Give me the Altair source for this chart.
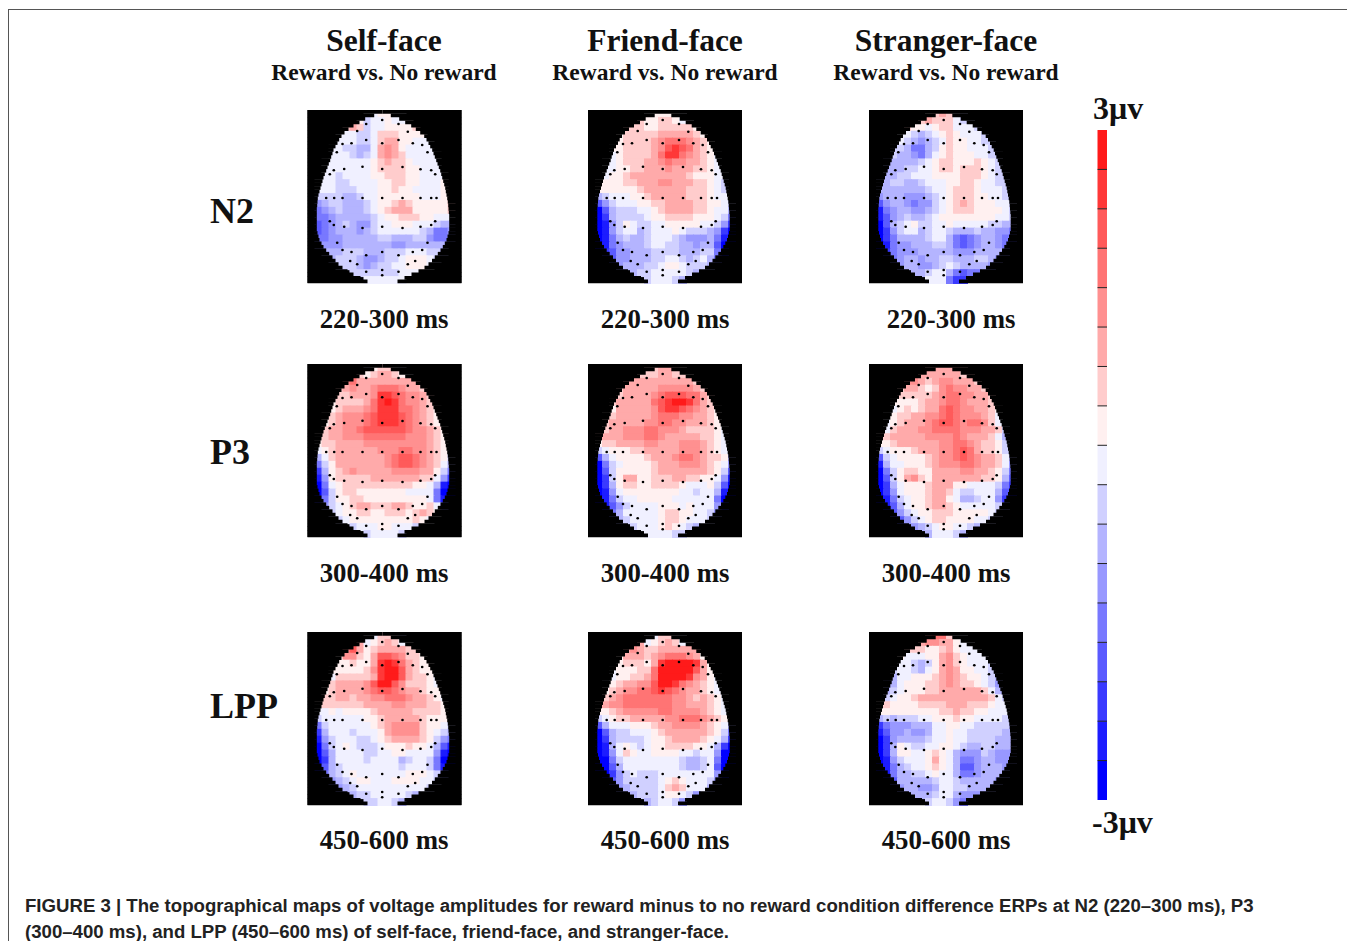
import altair as alt
import pandas as pd

# level codes, deepest red to deepest blue (one per colour-bar segment, 3 uV to -3 uV)
LEVEL_CODES = list("87654321abcdefghi")
LEVEL_COLORS = ["#ff1a1a", "#ff3838", "#ff5a5a", "#ff7474", "#ff9090", "#ffaaaa", "#ffcccc", "#fff0f0",
                "#f0f0ff", "#d0d0ff", "#b4b4ff", "#9898ff", "#7878ff", "#5a5aff", "#3a3aff", "#1c1cff", "#0000ff"]

# each map: rows of the scalp, top to bottom, one level code per cell inside the head
SELF_N2 = ["aa11aa", "1baa1aa1", "232baa11112", "aaabba2221111", "aaabba23311aaa", "aabbcca3431aaaa",
           "aaabcba3432aaaaa", "aaaaaaa123221aaaa", "aaaaaaa1222211aaa", "aabaaaa1122211aaaa",
           "aaabbaaaa112211aaa1", "aaabbbaaa11211aaaa1", "bbbbccbaa111111aaa1", "dcbbcccba11232111112",
           "edcbcccba12333111112", "eedcccccba1122211aaa", "fedcbcddbaa111aaabcc", "fedcccdcbaaaaaabceed",
           "eeddcccccbbcccbbdeed", "ddddcccccccddcccccc", "cccbbbcccbbbaaabbc", "cbbbcddcbba111ab",
           "bbbcdcbbaa111a", "bbbbbbbaaa", "aaaaaa"]
FRIEND_N2 = ["a1111a", "211221aa", "22211222221", "1222223333321", "12222345554321", "112222346765321",
             "a12222357754321a", "aa12223345443321a", "aa11223334333221a", "a112333333332111aa",
             "a1112233344333221ab", "11111123333332221ab", "cbaaa112333332221aa", "fdbaaa112233332211ab",
             "ifcbbbaa123333221aac", "igcbbbba112222111abe", "ihdb1abbaa11111aabdg", "ihdbaacbaaa1abbbcdgi",
             "ihecbccbaaabcdddcehi", "ihedcccbaabbccdccfi", "gfddcccbbbbcccbbeh", "fddcccbbaabcbace",
             "dcccbba11abbbc", "cbbaaaaabc", "baaabc"]
STRANGER_N2 = ["1232ab", "23222abb", "211a122aaab", "aabcba121aaab", "abcdcba211aabb", "bbceecb1211aaab",
               "bccdeca12111aabb", "cccccba12211121ab", "cccbbaa12212221ab", "ccbbaaa11112221abb",
               "ccbbccbaaa11221aabb", "cccccccbaa12221aaab", "dcccdddcba122211aab", "fdccdeddba1232111aab",
               "hedccddcba12221111ab", "hfdcbccba11111111aab", "ifcba1bbaa1aaaaabbcc", "igdbaacbaabcccbccdde",
               "igeccccbaacefedccdef", "iheddcccbbcefedccde", "gedddcccccdddccccd", "edccdccbbcccbbcd",
               "dccddcbabccccd", "ccbaacefee", "aaaegg"]
SELF_P3 = ["b1221b", "2123321a", "45333333333", "2343345554332", "22333477654432", "122223578754432",
           "1233345777554321", "12344456777654321", "12344456777654321", "233445666666544321",
           "1233444555555444321", "1223333444444444321", "a123333334445544321", "ca23333333456654321b",
           "eb1333333345665432ac", "gc1234333334444331be", "hd122222333333322adg", "iea1222222222211achi",
           "ifb1221111111aaaaeii", "geb1122111111111aeh", "dba1233222332112ad", "ba11221122212321",
           "ba11111111121a", "baaa11aaab", "baaaab"]
FRIEND_P3 = ["223321", "22233221", "33333333332", "2333334444432", "23333456665532", "233333567887532",
             "1333334677654321", "12333334555443321", "23333344554433321", "23344455444322221a",
             "233344455433333221a", "122333344333444321a", "ba1112233333444321a",
             "fca1111233345543221c", "ieba11112333444321ad", "ifb1111123333333 21bf".replace(" ", ""), "igb13311222332211adh",
             "igc1221122221aaa1bfi", "ihda11111111aabaachi", "ihebaa11111aaaaaaei", "hfdbaaaa111a1aaadg",
             "ecaaaaa12211aabd", "cbaaaa1221aaab", "baaa121abc", "aaaabb"]
STRANGER_P3 = ["233332", "33333322", "44323443332", "2332124544332", "22222345544332", "111123345543332",
               "a121233565443321", "a122334456544432a", "a123334566545542a", "a2333445555444332b",
               "12333334444543332ac", "112333333445543221b", "ba1112333445653221b",
               "fba111123445654332ac", "hcaa11123444554332ad", "ieb122113333443321be", "ifb134213333333221cf",
               "igca111233311aaaabeg", "igda1112332abbaaacfh", "iheba112331accbaadg", "hfca1123321aaaaabd",
               "fdba1122211111ab", "fdba1221111aab", "dcba11aabc", "caaabc"]
SELF_LPP = ["aa221b", "3a1232a1", "46312333322", "1442136654221", "11211378753211", "111112478863211",
            "a22222378863221a", "1233334688642221a", "12333345665433211", "22332334455543321a",
            "1222222333344333221", "aa1a111123333322221", "baaaaaa112333332111",
            "ebaaaaaa1234444211ab", "gcaaabaaa13444421abc", "hdbaaabba12333321bde", "ieba1abbba111211acfh",
            "ifcaaaabbaa11aaaadhi", "igcaaaabaaaacbaabeii", "hfcbaaaaaaaabaaabeh", "ecba1aaaaaaa111abd",
            "dcba11aaa1111aab", "dcbaaaaaaaaaab", "cbbaaaaabc", "bbaabc"]
FRIEND_LPP = ["aa221a", "3a1232a1", "34322333333", "1333234555431", "12221378888731", "a11122588888631",
              "a11223588887431a", "b123344688754321a", "1234455676543321a", "23455555554432321a",
              "134455555554433321a", "112344444554444321a", "ba12233333445554321",
              "fcaaa1112334444321ac", "ifcbbaaa1233333321be", "igcbbbba112333321acg", "ihca1aba11222211acgi",
              "ihda21aa1111aabaadii", "iiebaaaaaaaabccbaeii", "iifcaaaaaaaabccbafi", "igdbabbbaaaaaaaadh",
              "fdbbbbba121aaabd", "dcbbbba232aaac", "cbbba11abd", "cbaabd"]
STRANGER_LPP = ["3552aa", "344331aa", "22211231aaa", "1aaa113421aaa", "aabcb13421aaab", "baabca134311aab",
                "caa1112343211abc", "dca11122343221abd", "cba111223333332ac", "ba11233333333332ab",
                "12111122223332221aa", "1111111112232211aaa", "cbcbbbaa111211aaaab",
                "gedddcccaa11aabbbbbc", "hfddcddcaa1aabbbbbcc", "igdccccbaa1aabbbbccc", "igc1abbaa11abccbbccc",
                "igc11aa121acdddbcddd", "ihdbaaa131aceedccddd", "ihecbaa121acffdcccd", "heccbba1aaceedcccd",
                "fcccccbaabcccccd", "dccddcaabbcccc", "cccbaacddd", "baabde"]

MAPS = [[SELF_N2, FRIEND_N2, STRANGER_N2], [SELF_P3, FRIEND_P3, STRANGER_P3], [SELF_LPP, FRIEND_LPP, STRANGER_LPP]]

# first occupied column of each row
ROW_START = [8, 7, 5, 4, 4, 3, 3, 2, 2, 2, 1, 1, 1, 1, 1, 1, 1, 1, 1, 1, 2, 3, 4, 6, 8]

# head outline inside a map frame: left and right edge on 50 equal slices, top to bottom
EGG_L = [75, 66.7, 57.7, 52, 46, 41, 37, 34, 31.7, 30, 28, 26, 25, 23.7, 22.7, 21.3, 20, 18.7, 17.3, 16, 15, 14, 13, 12, 11,
         10.3, 10, 9.7, 9.3, 9.3, 9.3, 9.3, 9.3, 9.3, 9.3, 10, 11, 12, 14, 16, 18.7, 21.7, 25, 28, 31, 35, 40, 46, 53, 60]
EGG_R = [75, 83.3, 91.7, 97.7, 103.7, 108.3, 112.7, 116.7, 119, 121, 122.7, 124.7, 126, 127.3, 128.7, 130, 131.3, 132.7, 133.7,
         134.7, 135.7, 136.7, 137.7, 138.3, 139, 139.7, 140.3, 140.7, 141, 141.3, 141.7, 141.7, 141.7, 141.7, 141.7, 141, 140,
         139, 137.3, 135.3, 133, 130.3, 127.3, 124.5, 121, 117, 111, 104, 97, 90]

# electrodes inside a map frame
DOT_X = [74.7, 58.7, 91, 49.7, 100.3, 58.7, 91, 35, 44, 74.7, 105.3, 114.7, 29.3, 120, 55, 74.7, 95, 36.7, 113, 26.3, 123.7,
         22.3, 127.7, 18.7, 26.7, 35, 55, 74.7, 95, 113, 123.7, 129, 22.3, 127.7, 26.3, 123.7, 36.7, 113, 55, 74.7, 95,
         29.7, 120, 35, 114.7, 44, 105.3, 74.7, 58.7, 91, 42.7, 107.7, 49.7, 100.3, 58.7, 91, 74.7, 74.7]
DOT_Y = [10, 14, 14, 21, 21.7, 30, 30, 34, 33.3, 33.3, 33.3, 35, 42.3, 42.3, 56.7, 59, 57, 59, 59.3, 60.3, 60.3,
         64.3, 64.3, 88, 88, 88, 88, 88, 88, 88, 88, 88, 111.3, 111.3, 115, 115, 116.7, 116.7, 118, 116.7, 118,
         132.7, 132.7, 140, 140, 142, 142, 142, 145.3, 145.3, 151, 151, 154.3, 154.3, 161.7, 161.7, 160, 165.3]

FRAME_X = [307.5, 588, 869]
FRAME_Y = [110, 364, 632]
FRAME_W, FRAME_H = 154, 173
COL_W, ROW_H = FRAME_W / 22, FRAME_H / 25
SLICE_H = FRAME_H / len(EGG_L)

HEADINGS = ["Self-face", "Friend-face", "Stranger-face"]
HEADING_X = [384, 665, 946]
SUBHEADING = "Reward vs. No reward"
ROW_LABELS = ["N2", "P3", "LPP"]
ROW_LABEL_Y = [212, 453, 707]
TIME_LABELS = [["220-300 ms"] * 3, ["300-400 ms"] * 3, ["450-600 ms"] * 3]
TIME_X = [[384, 665, 951], [384, 665, 946], [384, 665, 946]]
TIME_Y = [320, 574, 841]
CAPTION = ["FIGURE 3 | The topographical maps of voltage amplitudes for reward minus to no reward condition difference ERPs at N2 (220\u2013300 ms), P3",
           "(300\u2013400 ms), and LPP (450\u2013600 ms) of self-face, friend-face, and stranger-face."]

BAR_TOP, BAR_BOTTOM, BAR_L, BAR_R = 130, 800, 1097.5, 1107

X = alt.X("x:Q", scale=alt.Scale(domain=[8, 1347], nice=False, zero=False), axis=None)
Y = alt.Y("y:Q", scale=alt.Scale(domain=[941, 8], nice=False, zero=False), axis=None)

frames, cells, masks, dots = [], [], [], []
for ri, fy in enumerate(FRAME_Y):
    for ci, fx in enumerate(FRAME_X):
        frames.append({"x": fx, "x2": fx + FRAME_W, "y": fy, "y2": fy + FRAME_H})
        for r, row in enumerate(MAPS[ri][ci]):
            for k, code in enumerate(row):
                c = ROW_START[r] + k
                cells.append({"x": fx + c * COL_W, "x2": fx + (c + 1) * COL_W + 1,
                              "y": fy + r * ROW_H, "y2": fy + (r + 1) * ROW_H + 1, "level": code})
        for n, (el, er) in enumerate(zip(EGG_L, EGG_R)):
            y0, y1 = fy + n * SLICE_H, fy + (n + 1) * SLICE_H + 0.3
            masks.append({"x": fx, "x2": fx + el, "y": y0, "y2": y1})
            masks.append({"x": fx + er, "x2": fx + FRAME_W, "y": y0, "y2": y1})
        for dx, dy in zip(DOT_X, DOT_Y):
            dots.append({"x": fx + dx, "y": fy + dy})

frame_layer = alt.Chart(pd.DataFrame(frames)).mark_rect(color="black").encode(x=X, x2="x2:Q", y=Y, y2="y2:Q")
color = alt.Color("level:N", scale=alt.Scale(domain=LEVEL_CODES, range=LEVEL_COLORS), legend=None)
cell_layer = alt.Chart(pd.DataFrame(cells)).mark_rect(strokeWidth=0).encode(x=X, x2="x2:Q", y=Y, y2="y2:Q", color=color)
mask_layer = alt.Chart(pd.DataFrame(masks)).mark_rect(color="black", strokeWidth=0).encode(x=X, x2="x2:Q", y=Y, y2="y2:Q")
dot_layer = alt.Chart(pd.DataFrame(dots)).mark_point(filled=True, color="black", size=7, opacity=1).encode(x=X, y=Y)

step = (BAR_BOTTOM - BAR_TOP) / len(LEVEL_CODES)
bar = [{"x": BAR_L, "x2": BAR_R, "y": BAR_TOP + i * step, "y2": BAR_TOP + (i + 1) * step, "level": code}
       for i, code in enumerate(LEVEL_CODES)]
bar_layer = alt.Chart(pd.DataFrame(bar)).mark_rect(strokeWidth=0).encode(x=X, x2="x2:Q", y=Y, y2="y2:Q", color=color)
ticks = [{"x": BAR_L, "x2": BAR_R, "y": BAR_TOP + i * step} for i in range(1, len(LEVEL_CODES))]
tick_layer = alt.Chart(pd.DataFrame(ticks)).mark_rule(color="#222222", strokeWidth=1).encode(x=X, x2="x2:Q", y=Y)

border_h = alt.Chart(pd.DataFrame([{"x": 8, "x2": 1347, "y": 9.5}])).mark_rule(color="#555555", strokeWidth=1).encode(x=X, x2="x2:Q", y=Y)
border_v = alt.Chart(pd.DataFrame([{"x": 8.5, "y": 9.5, "y2": 941}])).mark_rule(color="#555555", strokeWidth=1).encode(x=X, y=Y, y2="y2:Q")

serif = []
for t, x in zip(HEADINGS, HEADING_X):
    serif.append({"t": t, "x": x, "y": 42, "s": 31.5, "a": "center"})
    serif.append({"t": SUBHEADING, "x": x, "y": 73, "s": 23.5, "a": "center"})
for t, y in zip(ROW_LABELS, ROW_LABEL_Y):
    serif.append({"t": t, "x": 210, "y": y, "s": 36, "a": "left"})
for ri, y in enumerate(TIME_Y):
    for t, x in zip(TIME_LABELS[ri], TIME_X[ri]):
        serif.append({"t": t, "x": x, "y": y, "s": 26.8, "a": "center"})
serif.append({"t": "3\u03bcv", "x": 1093, "y": 109, "s": 32, "a": "left"})
serif.append({"t": "-3\u03bcv", "x": 1092, "y": 823, "s": 32, "a": "left"})
sdf = pd.DataFrame(serif)


def serif_layer(align):
    return alt.Chart(sdf[sdf.a == align]).mark_text(
        font="Liberation Serif", fontWeight="bold", align=align, baseline="middle", color="#111111"
    ).encode(x=X, y=Y, text="t:N", size=alt.Size("s:Q", scale=None))


cap_df = pd.DataFrame({"t": CAPTION, "x": [25, 25], "y": [906, 932]})
cap_layer = alt.Chart(cap_df).mark_text(
    font="Liberation Sans", fontWeight="bold", fontSize=18.63, align="left", baseline="middle", color="#222222"
).encode(x=X, y=Y, text="t:N")

chart = alt.layer(
    border_h, border_v, frame_layer, cell_layer, mask_layer, dot_layer, bar_layer, tick_layer,
    serif_layer("center"), serif_layer("left"), cap_layer,
).properties(width=1339, height=933, padding=0, background="white", autosize=alt.AutoSizeParams(type="none")
).configure_view(stroke=None)

chart.save("out.html", embed_options={"renderer": "svg", "actions": False})
